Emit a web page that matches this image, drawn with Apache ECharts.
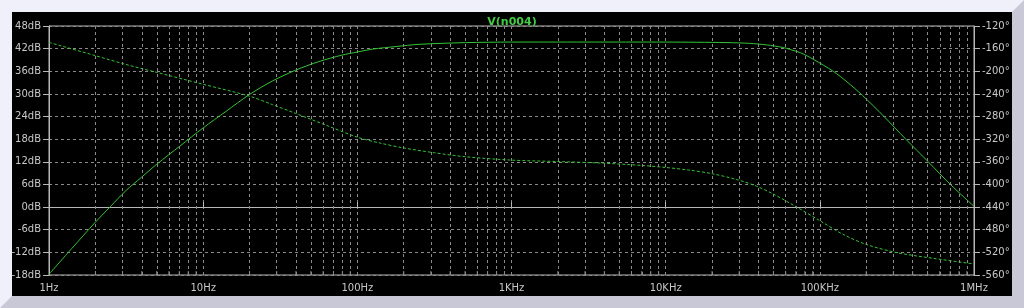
<!DOCTYPE html>
<html>
<head>
<meta charset="utf-8">
<script src="https://cdn.jsdelivr.net/npm/echarts@6/dist/echarts.min.js"></script>
<style>
  html, body { margin: 0; padding: 0; background: #f0f0f8; }
  #frame {
    position: absolute; left: 0; top: 0; width: 1024px; height: 308px;
    box-sizing: border-box; background: #000;
    border-style: solid; border-width: 12px;
    border-color: #f0f0fa #c8c8d6 #c8c8d6 #f0f0fa;
  }
  #chart { position: absolute; left: 0; top: 0; width: 1024px; height: 308px; }
</style>
</head>
<body>
<div id="frame"></div>
<div id="chart"></div>
<script>
// ---- data ----
const freqMag = [1, 1.41, 2, 2.51, 3.16, 3.98, 5.01, 7.08, 10, 14.1, 20, 28.2, 39.8, 56.2, 79.4, 100, 126, 178, 251, 501, 1000, 3000, 10000, 25000, 35000, 45000, 57800, 63900, 75000, 90500, 122000, 150000, 189000, 261000, 361000, 505000, 703000, 1000000];
const magDb   = [-17.8, -10.9, -4.0, 0.2, 4.4, 7.9, 11.4, 16.2, 21.0, 25.4, 29.85, 33.45, 36.3, 38.55, 40.28, 41.1, 41.88, 42.55, 43.14, 43.59, 43.74, 43.75, 43.74, 43.6, 43.4, 43.0, 42.3, 41.8, 40.9, 39.2, 36.0, 33.2, 29.6, 24.0, 18.0, 12.0, 6.0, 0.2];

const freqPhase = [1, 2, 3.16, 5.01, 10, 20, 28.2, 39.8, 63, 100, 141, 200, 316, 501, 1000, 2000, 3980, 7080, 10000, 14100, 20000, 29500, 38800, 50000, 68800, 100000, 141000, 200000, 316000, 543000, 1000000];
const phaseDeg  = [-149, -172.4, -188, -202, -223, -244, -259, -274.5, -295.5, -316.5, -327, -335.5, -344, -351, -357, -359.5, -362.5, -366.5, -370, -374.5, -381, -392, -403, -417, -438, -464, -488, -506, -520.5, -530.5, -540.5];

const xTickValues = [1, 10, 100, 1000, 10000, 100000, 1000000];
const xTickLabels = ['1Hz', '10Hz', '100Hz', '1KHz', '10KHz', '100KHz', '1MHz'];
const minorMultipliers = [2, 3, 4, 5, 6, 7, 8, 9];

const traceTitle = 'V(n004)';

// ---- build ----
const magPairs = freqMag.map((f, i) => [f, magDb[i]]);
const phasePairs = freqPhase.map((f, i) => [f, phaseDeg[i]]);
const minorFreqs = [];
for (let d = 0; d < xTickValues.length - 1; d++) {
  minorMultipliers.forEach(m => minorFreqs.push(m * xTickValues[d]));
}

const FONT = 'DejaVu Sans';
const labelColor = '#c8c8c8';
const axisColor = '#b8b8b8';
const gridColor = '#8a8a8a';
const green = '#34c434';

const chart = echarts.init(document.getElementById('chart'), null, { renderer: 'canvas' });
chart.setOption({
  backgroundColor: 'transparent',
  animation: false,
  title: {
    text: traceTitle, left: 'center', top: 12,
    textStyle: { color: '#44cc44', fontSize: 11, fontWeight: 'bold', fontFamily: FONT }
  },
  grid: { left: 49, right: 50, top: 26, bottom: 33, show: true, borderColor: axisColor, borderWidth: 1, backgroundColor: 'transparent' },
  xAxis: {
    type: 'log', logBase: 10, min: 1, max: 1000000, splitNumber: 6,
    axisLine: { show: true, lineStyle: { color: axisColor, width: 1 } },
    axisTick: { show: true, inside: true, length: 5, lineStyle: { color: axisColor } },
    axisLabel: {
      color: labelColor, fontSize: 10, fontFamily: FONT, margin: 8,
      formatter: v => { const i = xTickValues.indexOf(Math.round(v)); return i >= 0 ? xTickLabels[i] : ''; }
    },
    splitLine: { show: true, lineStyle: { color: gridColor, type: [3, 3], width: 1 } }
  },
  yAxis: [
    {
      type: 'value', min: -18, max: 48, interval: 6, position: 'left',
      axisLine: { show: true, lineStyle: { color: axisColor, width: 1 } },
      axisTick: { show: true, length: 6, lineStyle: { color: axisColor } },
      axisLabel: { color: labelColor, fontSize: 10, fontFamily: FONT, margin: 8, formatter: '{value}dB' },
      splitLine: { show: true, lineStyle: { color: gridColor, type: [3, 3], width: 1 } }
    },
    {
      type: 'value', min: -560, max: -120, interval: 40, position: 'right',
      axisLine: { show: true, lineStyle: { color: axisColor, width: 1 } },
      axisTick: { show: true, length: 6, lineStyle: { color: axisColor } },
      axisLabel: { color: labelColor, fontSize: 10, fontFamily: FONT, margin: 8, formatter: '{value}°' },
      splitLine: { show: false }
    }
  ],
  series: [
    {
      name: 'minor-grid', type: 'line', data: [], silent: true,
      markLine: {
        silent: true, symbol: 'none', label: { show: false },
        lineStyle: { color: gridColor, type: [3, 3], width: 1 },
        data: minorFreqs.map(f => ({ xAxis: f }))
      }
    },
    {
      name: 'minor-ticks', type: 'scatter', silent: true, yAxisIndex: 0,
      symbol: 'rect', symbolSize: [1, 4], symbolOffset: [0, -2],
      itemStyle: { color: axisColor },
      data: minorFreqs.map(f => [f, -18])
    },
    {
      name: 'magnitude', type: 'line', yAxisIndex: 0, data: magPairs,
      showSymbol: false, smooth: 0.3,
      lineStyle: { color: green, width: 1 }
    },
    {
      name: 'phase', type: 'line', yAxisIndex: 1, data: phasePairs,
      showSymbol: false, smooth: 0.3,
      lineStyle: { color: green, width: 1, type: [3, 2] }
    }
  ]
});
</script>
</body>
</html>
